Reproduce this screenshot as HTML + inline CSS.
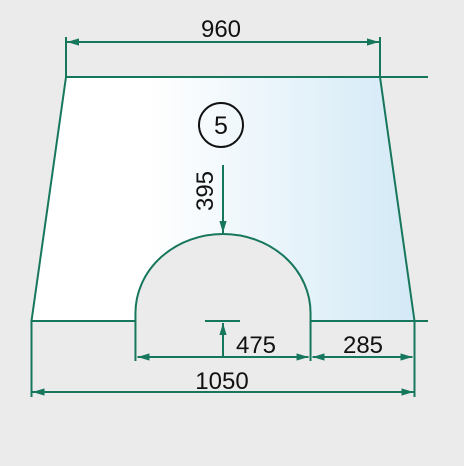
<!DOCTYPE html>
<html><head><meta charset="utf-8"><style>
html,body{margin:0;padding:0;background:#ebebeb;width:464px;height:466px;overflow:hidden}
svg{display:block}
text{font-family:"Liberation Sans",sans-serif;fill:#111}
</style></head><body>
<svg id="c" width="464" height="466" viewBox="0 0 464 466">
<defs>
<linearGradient id="g" x1="0" x2="1" y1="0" y2="0">
<stop offset="0" stop-color="#ffffff"/><stop offset="0.3" stop-color="#ffffff"/><stop offset="1" stop-color="#d3e9f6"/>
</linearGradient>
<marker id="a" viewBox="0 0 10 10" refX="10" refY="5" markerWidth="12" markerHeight="12" markerUnits="userSpaceOnUse" orient="auto-start-reverse">
<path d="M0,2 L10,5 L0,8 z" fill="#17775c"/></marker>
</defs>
</svg>
<script>
// dimensions (mm)
const topWidth = [960];
const bottomWidth = [1050];
const archWidth = [475];
const sideOffset = [285];
const archTopDepth = [395];
const partNumber = ["5"];

const NS="http://www.w3.org/2000/svg", svg=document.getElementById('c');
const S = 383/bottomWidth[0];
const ST = 314/960;
const cx = 223, yTop = 77, yBot = 321;
const col="#17775c";
function el(t,a,p){const e=document.createElementNS(NS,t);for(const k in a)e.setAttribute(k,a[k]);(p||svg).appendChild(e);return e;}
const tl=cx-topWidth[0]/2*ST, tr=cx+topWidth[0]/2*ST, bl=cx-bottomWidth[0]/2*S, br=cx+bottomWidth[0]/2*S;
const ar=br-sideOffset[0]*S, al=2*cx-ar;
const rx=(ar-al)/2, ry=87;
const archTop = yBot - ry;

const shape=el('path',{d:`M${tl},${yTop} L${tr},${yTop} L${br},${yBot} L${ar},${yBot} L${ar},${yBot-8} A${rx},${ry-8} 0 0 0 ${al},${yBot-8} L${al},${yBot} L${bl},${yBot} Z`,fill:'url(#g)',stroke:col,'stroke-width':2});



function line(x1,y1,x2,y2,name,arrows){const l=el('line',{x1,y1,x2,y2,stroke:col,'stroke-width':2});
 if(arrows>=1)l.setAttribute('marker-end','url(#a)'); if(arrows==2)l.setAttribute('marker-start','url(#a)');
 
  return l;}
function txt(x,y,s,name,extra){const t=el('text',Object.assign({x,y,'font-size':24,'text-anchor':'middle'},extra||{}));t.textContent=s;
 
  return t;}

line(tr,yTop,428,yTop,'top-extension-line');
line(br,yBot,428,yBot,'bottom-extension-line');
line(tl,37,tl,yTop,'top-left-extension');
line(tr,37,tr,yTop,'top-right-extension');
line(bl,yBot,bl,397,'bottom-left-extension');
line(br,yBot,br,397,'bottom-right-extension');
line(al,yBot,al,361,'arch-left-extension');
line(ar,yBot,ar,361,'arch-right-extension');
line(tl+1,42,tr-1,42,'dim-960-line',2);
line(bl+1,392,br-1,392,'dim-1050-line',2);
line(al+2,357,ar-2,357,'dim-475-width-line',2);
line(ar+2,357,br-2,357,'dim-285-line',2);
line(cx,165,cx,archTop-1,'dim-395-arrow',1);
line(205,yBot,240,yBot,'arch-base-tick');
line(cx,357,cx,yBot+2,'dim-475-arrow',1);
txt(221,37,topWidth[0],'label-960');
txt(222,389,bottomWidth[0],'label-1050');
txt(256,353,archWidth[0],'label-475');
txt(363,353,sideOffset[0],'label-285');
txt(0,0,archTopDepth[0],'label-395',{transform:'translate(213,191) rotate(-90)'});
const circ=el('circle',{cx:221,cy:125,r:22,fill:'none',stroke:'#111','stroke-width':2});


txt(221,134,partNumber[0],'part-number-label',{'font-size':25});
</script>
</body></html>
